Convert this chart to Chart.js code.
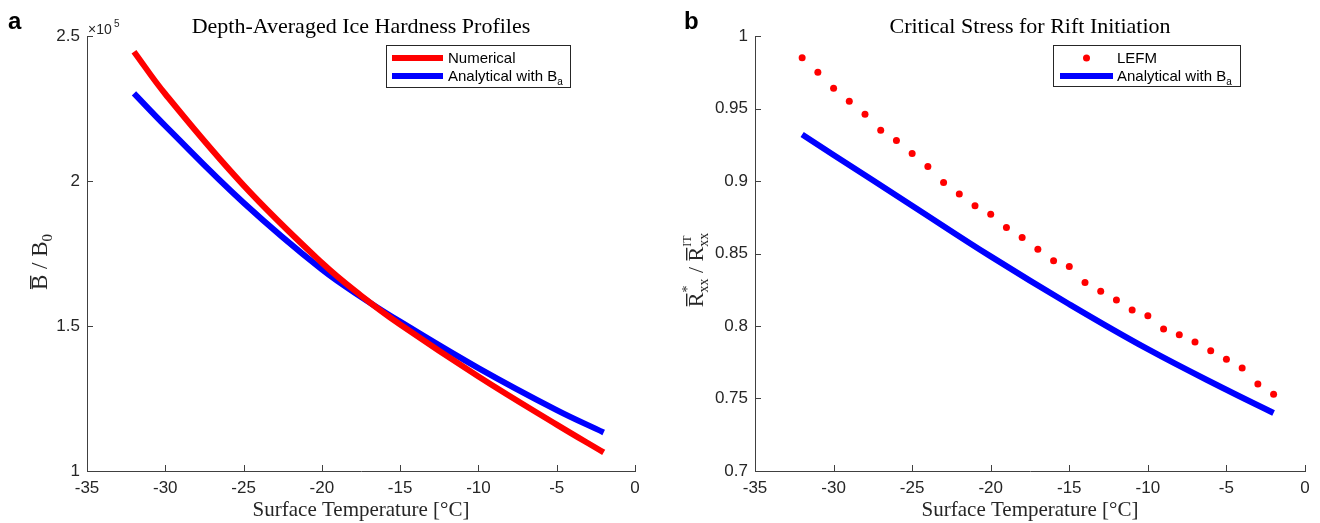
<!DOCTYPE html>
<html>

<head>
    <meta charset="UTF-8">
    <title>Ice Hardness and Rift Initiation</title>
    <script src="https://cdn.jsdelivr.net/npm/chart.js"></script>
    <style>
        body { margin: 0; background: #fff; }
        .panel { position: absolute; top: 0; width: 660px; height: 523px; }
    </style>
</head>

<body>
    <div class="panel" style="left:0"><canvas id="chartA" width="660" height="523"></canvas></div>
    <div class="panel" style="left:660px"><canvas id="chartB" width="660" height="523"></canvas></div>

    <script>
        // shared x axis (surface temperature, deg C)
        const tempTicks = [-35, -30, -25, -20, -15, -10, -5, 0];

        // panel a: depth-averaged hardness, in units of 1e5
        const hardTicks = [1, 1.5, 2, 2.5];
        const numericalTemps = [-32, -30, -25, -20, -17.5, -15, -10, -5, -2];
        const numericalVals = [2.446, 2.300, 1.985, 1.718, 1.605, 1.505, 1.326, 1.160, 1.064];
        const analyticTempsA = [-32, -30, -25, -20, -17, -15, -10, -5, -2];
        const analyticValsA = [2.302, 2.190, 1.925, 1.695, 1.583, 1.515, 1.355, 1.210, 1.133];

        // panel b: critical stress ratio
        const stressTicks = [0.7, 0.75, 0.8, 0.85, 0.9, 0.95, 1];
        const lefmTemps = [-32, -31, -30, -29, -28, -27, -26, -25, -24, -23, -22, -21, -20, -19, -18, -17,
            -16, -15, -14, -13, -12, -11, -10, -9, -8, -7, -6, -5, -4, -3, -2];
        const lefmVals = [0.985, 0.975, 0.964, 0.955, 0.946, 0.935, 0.928, 0.919, 0.910, 0.899, 0.891, 0.883,
            0.877, 0.868, 0.861, 0.853, 0.845, 0.841, 0.830, 0.824, 0.818, 0.811, 0.807, 0.798, 0.794, 0.789,
            0.783, 0.777, 0.771, 0.760, 0.753];
        const analyticTempsB = [-32, -30, -25, -20, -15, -10, -5, -2];
        const analyticValsB = [0.932, 0.918, 0.883, 0.848, 0.815, 0.784, 0.756, 0.740];

        const axisColor = "#404040";
        const textColor = "#262626";
        const sans = "'Liberation Sans', Arial, sans-serif";
        const serif = "'Liberation Serif', 'Times New Roman', serif";

        const toPoints = (xs, ys) => xs.map((x, i) => ({ x: x, y: ys[i] }));
        const fmt = v => String(+Number(v).toFixed(2));

        // MATLAB style tick marks pointing into the plot
        const inwardTicks = {
            id: "inwardTicks",
            afterDatasetsDraw(chart) {
                const { ctx, chartArea, scales } = chart;
                ctx.save();
                ctx.strokeStyle = axisColor;
                ctx.lineWidth = 1;
                ctx.beginPath();
                scales.x.ticks.forEach(t => {
                    const px = Math.round(scales.x.getPixelForValue(t.value)) + 0.5;
                    ctx.moveTo(px, chartArea.bottom);
                    ctx.lineTo(px, chartArea.bottom - 6);
                });
                scales.y.ticks.forEach(t => {
                    const py = Math.round(scales.y.getPixelForValue(t.value)) + 0.5;
                    ctx.moveTo(chartArea.left, py);
                    ctx.lineTo(chartArea.left + 6, py);
                });
                ctx.stroke();
                ctx.restore();
            }
        };

        // draws a run of text pieces starting at x, returns end x
        const drawRun = (ctx, pieces, x, y) => {
            pieces.forEach(p => {
                ctx.font = p.font;
                ctx.fillText(p.text, x, y + (p.dy || 0));
                if (!p.stack) x += ctx.measureText(p.text).width;
            });
            return x;
        };

        const runWidth = (ctx, pieces) => {
            let w = 0;
            pieces.forEach(p => {
                ctx.font = p.font;
                if (!p.stack) w += ctx.measureText(p.text).width;
            });
            return w;
        };

        const drawLegend = (ctx, box, items) => {
            ctx.save();
            ctx.fillStyle = "#fff";
            ctx.fillRect(box.x, box.y, box.w, box.h);
            ctx.strokeStyle = "#262626";
            ctx.lineWidth = 1;
            ctx.strokeRect(box.x + 0.5, box.y + 0.5, box.w, box.h);
            items.forEach(it => {
                if (it.kind === "line") {
                    ctx.strokeStyle = it.color;
                    ctx.lineWidth = 6;
                    ctx.beginPath();
                    ctx.moveTo(it.x0, it.y);
                    ctx.lineTo(it.x1, it.y);
                    ctx.stroke();
                } else {
                    ctx.fillStyle = it.color;
                    ctx.beginPath();
                    ctx.arc((it.x0 + it.x1) / 2, it.y, 3.5, 0, Math.PI * 2);
                    ctx.fill();
                }
                ctx.fillStyle = "#000";
                ctx.textBaseline = "alphabetic";
                drawRun(ctx, it.label, it.tx, it.y + 5);
            });
            ctx.restore();
        };

        const legendLabel = (main, sub) => {
            const parts = [{ text: main, font: "15px " + sans }];
            if (sub) parts.push({ text: sub, font: "10px " + sans, dy: 4 });
            return parts;
        };

        // title, panel letter, y label, legend
        const overlay = (cfg) => ({
            id: "overlay",
            afterDraw(chart) {
                const { ctx, chartArea } = chart;
                ctx.save();
                ctx.fillStyle = "#000";
                ctx.textBaseline = "alphabetic";
                ctx.textAlign = "center";
                ctx.font = "22px " + serif;
                ctx.fillText(cfg.title, (chartArea.left + chartArea.right) / 2, 33);
                ctx.textAlign = "left";
                ctx.font = "bold 24px " + sans;
                ctx.fillText(cfg.letter, cfg.letterX, 29);

                // rotated y axis label
                ctx.save();
                ctx.translate(cfg.yLabelX, cfg.yLabelY);
                ctx.rotate(-Math.PI / 2);
                ctx.fillStyle = textColor;
                const w = runWidth(ctx, cfg.yLabel);
                let x = -w / 2;
                cfg.yLabel.forEach(p => {
                    ctx.font = p.font;
                    const pw = ctx.measureText(p.text).width;
                    ctx.fillText(p.text, x, p.dy || 0);
                    if (p.bar) {
                        ctx.fillRect(x + 1, -17, pw - 2, 1.4);
                    }
                    if (!p.stack) x += pw;
                });
                ctx.restore();

                if (cfg.extra) cfg.extra(ctx, chartArea);
                ctx.restore();
                drawLegend(ctx, cfg.legendBox, cfg.legendItems);
            }
        });

        const baseOptions = (yMin, yMax, yTicks, yWidth, padRight) => ({
            responsive: false,
            animation: false,
            layout: { padding: { top: 36, right: padRight, left: 0, bottom: 0 } },
            plugins: { legend: { display: false }, tooltip: { enabled: false } },
            elements: { line: { tension: 0.4 } },
            scales: {
                x: {
                    type: "linear",
                    min: -35,
                    max: 0,
                    afterBuildTicks: s => { s.ticks = tempTicks.map(v => ({ value: v })); },
                    afterFit: s => { s.height = 52; },
                    ticks: { color: textColor, font: { family: sans, size: 17 }, padding: 7, maxRotation: 0, callback: fmt },
                    grid: { display: false, drawTicks: false },
                    border: { display: true, color: axisColor, width: 1 },
                    title: { display: true, text: "Surface Temperature [°C]", color: textColor, font: { family: serif, size: 21 }, padding: { top: 0, bottom: 0 } }
                },
                y: {
                    type: "linear",
                    min: yMin,
                    max: yMax,
                    afterBuildTicks: s => { s.ticks = yTicks.map(v => ({ value: v })); },
                    afterFit: s => { s.width = yWidth; },
                    ticks: { color: textColor, font: { family: sans, size: 17 }, padding: 7, callback: fmt },
                    grid: { display: false, drawTicks: false },
                    border: { display: true, color: axisColor, width: 1 }
                }
            }
        });

        // panel a
        new Chart(document.getElementById("chartA"), {
            type: "line",
            data: {
                datasets: [
                    {
                        label: "Numerical",
                        data: toPoints(numericalTemps, numericalVals),
                        borderColor: "#ff0000",
                        borderWidth: 6,
                        borderCapStyle: "butt",
                        pointRadius: 0
                    },
                    {
                        label: "Analytical with B",
                        data: toPoints(analyticTempsA, analyticValsA),
                        borderColor: "#0000ff",
                        borderWidth: 6,
                        borderCapStyle: "butt",
                        pointRadius: 0
                    }
                ]
            },
            options: baseOptions(1, 2.5, hardTicks, 87, 25),
            plugins: [inwardTicks, overlay({
                title: "Depth-Averaged Ice Hardness Profiles",
                letter: "a",
                letterX: 8,
                yLabelX: 47,
                yLabelY: 262,
                yLabel: [
                    { text: "B", font: "23px " + serif, bar: true },
                    { text: " / B", font: "23px " + serif },
                    { text: "0", font: "15px " + serif, dy: 5 }
                ],
                extra: (ctx, area) => {
                    ctx.fillStyle = textColor;
                    ctx.textAlign = "left";
                    ctx.font = "14px " + sans;
                    ctx.fillText("×10", area.left + 1, 34);
                    ctx.font = "10px " + sans;
                    ctx.fillText("5", area.left + 27, 27);
                },
                legendBox: { x: 386, y: 45, w: 184, h: 42 },
                legendItems: [
                    { kind: "line", color: "#ff0000", x0: 392, x1: 443, y: 58, tx: 448, label: legendLabel("Numerical") },
                    { kind: "line", color: "#0000ff", x0: 392, x1: 443, y: 76, tx: 448, label: legendLabel("Analytical with B", "a") }
                ]
            })]
        });

        // panel b
        new Chart(document.getElementById("chartB"), {
            type: "line",
            data: {
                datasets: [
                    {
                        label: "LEFM",
                        data: toPoints(lefmTemps, lefmVals),
                        showLine: false,
                        pointRadius: 3.5,
                        pointBorderWidth: 0,
                        pointBackgroundColor: "#ff0000",
                        borderColor: "#ff0000"
                    },
                    {
                        label: "Analytical with B",
                        data: toPoints(analyticTempsB, analyticValsB),
                        borderColor: "#0000ff",
                        borderWidth: 6,
                        borderCapStyle: "butt",
                        pointRadius: 0
                    }
                ]
            },
            options: baseOptions(0.7, 1, stressTicks, 95, 15),
            plugins: [inwardTicks, overlay({
                title: "Critical Stress for Rift Initiation",
                letter: "b",
                letterX: 24,
                yLabelX: 43,
                yLabelY: 270,
                yLabel: [
                    { text: "R", font: "22px " + serif, bar: true },
                    { text: "*", font: "14px " + serif, dy: -11, stack: true },
                    { text: "xx", font: "14px " + serif, dy: 5 },
                    { text: " / ", font: "22px " + serif },
                    { text: "R", font: "22px " + serif, bar: true },
                    { text: "IT", font: "12px " + serif, dy: -12, stack: true },
                    { text: "xx", font: "14px " + serif, dy: 5 }
                ],
                legendBox: { x: 393, y: 45, w: 187, h: 41 },
                legendItems: [
                    { kind: "dot", color: "#ff0000", x0: 400, x1: 453, y: 58, tx: 457, label: legendLabel("LEFM") },
                    { kind: "line", color: "#0000ff", x0: 400, x1: 453, y: 76, tx: 457, label: legendLabel("Analytical with B", "a") }
                ]
            })]
        });
    </script>
</body>

</html>
